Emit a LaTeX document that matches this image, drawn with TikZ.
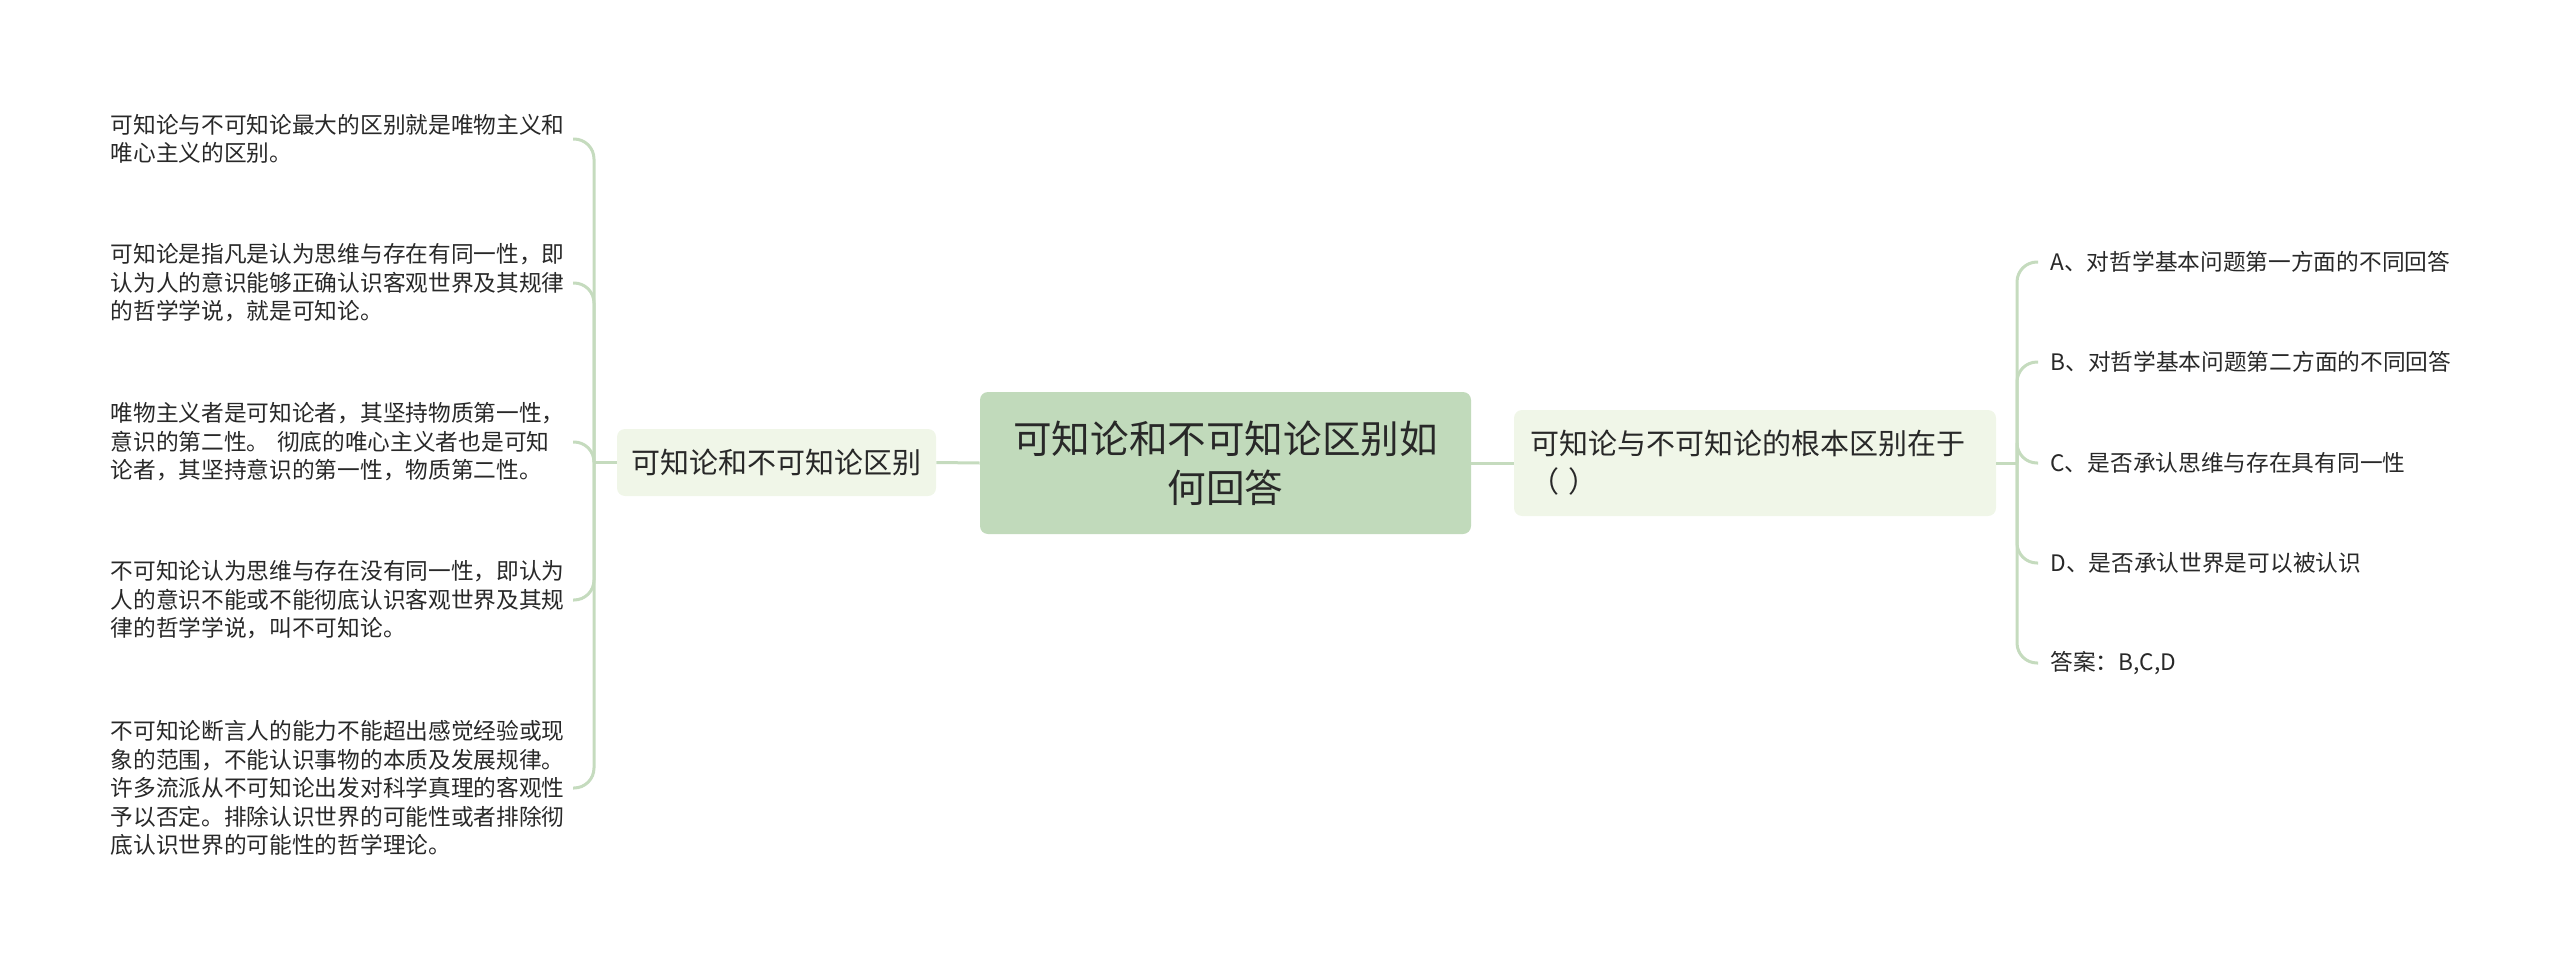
\documentclass[tikz,border=0pt]{standalone}
\usepackage{fontspec}
\setmainfont{Noto Sans CJK SC}
\usetikzlibrary{calc}
\definecolor{rootgreen}{RGB}{193,218,187}
\definecolor{subgreen}{RGB}{240,246,232}
\definecolor{linkgreen}{RGB}{197,219,190}
\definecolor{txt}{RGB}{40,40,40}
\begin{document}
\begin{tikzpicture}[x=0.5pt, y=-0.5pt,
    link/.style = {draw=linkgreen, line width=1.5pt, rounded corners=10pt},
    rootbox/.style = {fill=rootgreen, rounded corners=4pt, align=center, text=txt,
        minimum width=245.5pt, minimum height=71pt, font=\fontsize{19.3}{24.5}\selectfont},
    subbox/.style = {fill=subgreen, rounded corners=4pt, text=txt,
        font=\fontsize{14.5}{19}\selectfont},
    leaf/.style = {text=txt, align=left, inner ysep=2pt,
        font=\fontsize{11.35}{14.25}\selectfont}]
                \useasboundingbox (0,0) rectangle (2560,969);
                % centre
                \node[rootbox] (root) at (1225.5,463) {可知论和不可知论区别如\\何回答};
                \node[subbox, minimum width=159.5pt, minimum height=33.5pt] (lsub) at (776.5,462.5) {可知论和不可知论区别};
                \node[subbox, minimum width=241pt, minimum height=53pt, text width=225pt, inner xsep=8pt, align=left] (rsub) at (1755,463) {可知论与不可知论的根本区别在于\\（ ）};
                \draw[link] (lsub.east) -- (root.west);
                \draw[link] (root.east) -- (rsub.west);
                % left leaves
                \coordinate (ljunc) at (594,462.5);
                \node[leaf, anchor=east, text width=228pt, inner xsep=3pt] (l1) at (573,139) {可知论与不可知论最大的区别就是唯物主义和\\唯心主义的区别。};
                \node[leaf, anchor=east, text width=228pt, inner xsep=3pt] (l2) at (573,283) {可知论是指凡是认为思维与存在有同一性，即\\认为人的意识能够正确认识客观世界及其规律\\的哲学学说，就是可知论。};
                \node[leaf, anchor=east, text width=228pt, inner xsep=3pt] (l3) at (573,442) {唯物主义者是可知论者，其坚持物质第一性，\\意识的第二性。 彻底的唯心主义者也是可知\\论者，其坚持意识的第一性，物质第二性。};
                \node[leaf, anchor=east, text width=228pt, inner xsep=3pt] (l4) at (573,600) {不可知论认为思维与存在没有同一性，即认为\\人的意识不能或不能彻底认识客观世界及其规\\律的哲学学说，叫不可知论。};
                \node[leaf, anchor=east, text width=228pt, inner xsep=3pt] (l5) at (573,788) {不可知论断言人的能力不能超出感觉经验或现\\象的范围，不能认识事物的本质及发展规律。\\许多流派从不可知论出发对科学真理的客观性\\予以否定。排除认识世界的可能性或者排除彻\\底认识世界的可能性的哲学理论。};
                \draw[link] (lsub.west) -- (ljunc);
                \foreach \n in {l1,l2,l3,l4,l5}
                    \draw[link] (ljunc) |- (\n.east);
                % right leaves
                \coordinate (rjunc) at (2017,463);
                \node[leaf, anchor=west, inner xsep=6pt] (ra) at (2038,262) {A、对哲学基本问题第一方面的不同回答};
                \node[leaf, anchor=west, inner xsep=6pt] (rb) at (2038,362) {B、对哲学基本问题第二方面的不同回答};
                \node[leaf, anchor=west, inner xsep=6pt] (rc) at (2038,463) {C、是否承认思维与存在具有同一性};
                \node[leaf, anchor=west, inner xsep=6pt] (rd) at (2038,563) {D、是否承认世界是可以被认识};
                \node[leaf, anchor=west, inner xsep=6pt] (rans) at (2038,663) {答案：B,C,D};
                \draw[link] (rsub.east) -- (rjunc);
                \foreach \n in {ra,rb,rc,rd,rans}
                    \draw[link] (rjunc) |- (\n.west);
\end{tikzpicture}
\end{document}
